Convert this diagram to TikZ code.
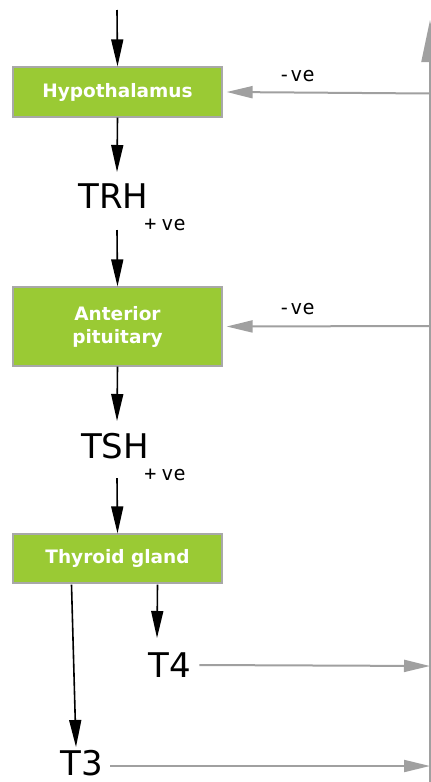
\documentclass[tikz,border=0pt]{standalone}
\usepackage{fontspec}
\setmainfont{DejaVu Sans}
\setmonofont{DejaVu Sans Mono}
\usetikzlibrary{arrows.meta,calc}
\definecolor{boxgreen}{HTML}{9ACA34}
\definecolor{boxedge}{HTML}{A8A8A8}
\definecolor{fbgray}{HTML}{A0A0A0}
\tikzset{
  organ/.style={draw=boxedge, line width=1.2pt, fill=boxgreen, text=white,
    font=\bfseries\fontsize{18.5}{23}\selectfont, minimum width=209pt, align=center, inner sep=0pt},
  hormone/.style={font=\fontsize{34}{36}\selectfont, inner sep=0pt, text=black},
  small/.style={font=\ttfamily\fontsize{20}{22}\selectfont, inner sep=0pt, text=black},
  blk/.style={line width=1.6pt, -{Triangle[length=27pt,width=12pt]}},
  gry/.style={draw=fbgray, line width=2pt, -{Triangle[length=26pt,width=12pt]}, color=fbgray},
  bigtip/.style={draw=fbgray, line width=2pt, -{Triangle[length=42pt,width=17pt]}, color=fbgray},
}
\begin{document}
\begin{tikzpicture}[x=1pt,y=-1pt]
\useasboundingbox (0,0) rectangle (431,782);
% boxes
\node[organ, minimum height=50pt] (hyp) at (117.5,92) {Hypothalamus};
\node[organ, minimum height=79pt] (ant) at (117.5,326.5) {Anterior\\pituitary};
\node[organ, minimum height=49pt] (thy) at (117.5,558.5) {Thyroid gland};
% hormones
\node[hormone] (trh) at (113.5,196) {TRH};
\node[hormone] (tsh) at (115,446) {TSH};
\node[hormone] (t4) at (170,665) {T4};
\node[hormone] (t3) at (82,763) {T3};
% labels
\node[small] (p1) at (165,225) {+\hspace{5pt}ve};
\node[small] (p2) at (165,475) {+\hspace{5pt}ve};
\node[small] (m1) at (296.5,76) {-ve};
\node[small] (m2) at (296.5,309) {-ve};
% coordinates
\coordinate (top) at (117,10);
\coordinate (railbot) at (430,782);
\coordinate (railtop) at (430,20);
\coordinate (r1) at (430,93.5);
\coordinate (r2) at (430,326);
\coordinate (r4) at (430,666);
\coordinate (r3) at (430,766);
% black arrows
\draw[blk] (top) -- (hyp.north);
\draw[blk] (hyp.south) -- (117,172);
\draw[blk] (117,230) -- (ant.north);
\draw[blk] (ant.south) -- (117,421);
\draw[blk] (117,478) -- (thy.north);
\draw[blk] ($(thy.south)+(40,1)$) -- (157,638);
\draw[blk] ($(thy.south)+(-46,1)$) -- (76,747);
% gray feedback
\draw[bigtip] (railbot) -- (railtop);
\draw[gry] (r1) -- ([xshift=4pt]hyp.east);
\draw[gry] (r2) -- ([xshift=4pt]ant.east);
\draw[gry] ([xshift=8pt]t4.east) -- (r4);
\draw[gry] ([xshift=7pt,yshift=-3pt]t3.east) -- (r3);
\end{tikzpicture}
\end{document}
